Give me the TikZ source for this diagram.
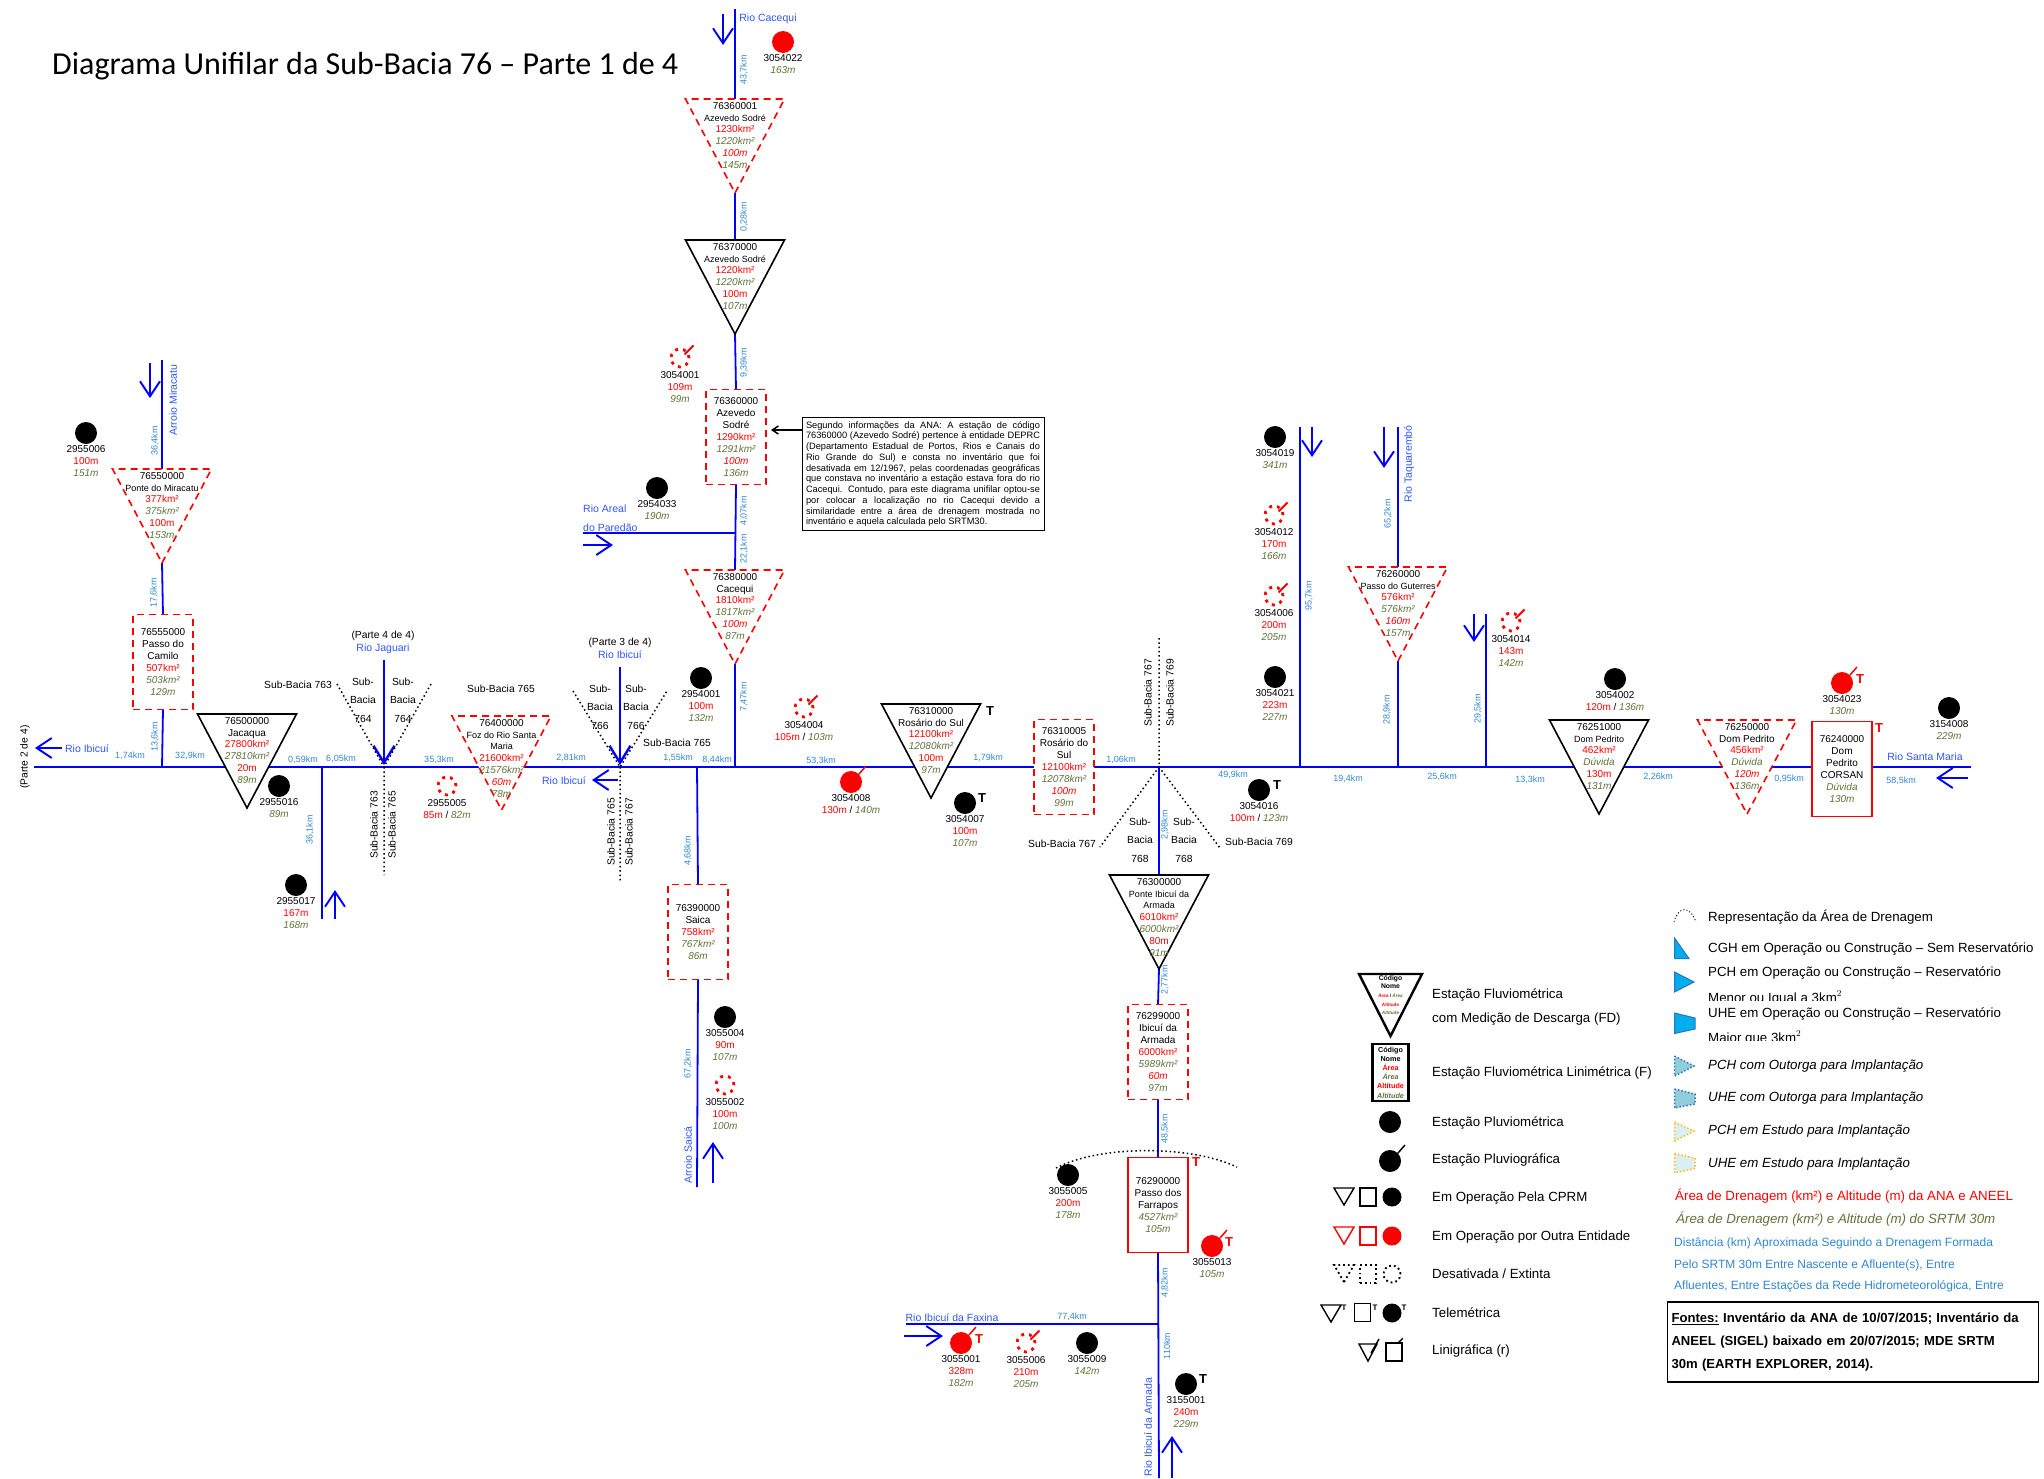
\documentclass[tikz,border=0pt]{standalone}
\usepackage{fontspec}
\setmainfont{Liberation Sans}
\newfontfamily\fonteTitulo{Carlito}
\usetikzlibrary{shapes.geometric, arrows.meta, positioning, backgrounds, calc}
\definecolor{azulRio}{HTML}{0000FF}
\definecolor{azulTxt}{HTML}{2F55FF}
\definecolor{azulKm}{HTML}{2F86D0}
\definecolor{vermelhoANA}{HTML}{FF0000}
\definecolor{verdeSRTM}{HTML}{5F7339}
\definecolor{azulUsina}{HTML}{00AEEF}
\definecolor{azulBorda}{HTML}{2E75B6}
\definecolor{azulOutorga}{HTML}{92CDDC}
\definecolor{azulEstudo}{HTML}{DAEEF3}
\definecolor{amareloEstudo}{HTML}{FFC000}
\newcommand{\ana}[1]{\textcolor{vermelhoANA}{#1}}
\newcommand{\ani}[1]{\textcolor{vermelhoANA}{\itshape #1}}
\newcommand{\srt}[1]{\textcolor{verdeSRTM}{\itshape #1}}
\newcommand{\nm}[1]{{\fontsize{9}{12}\selectfont #1}}

\begin{document}
\begin{tikzpicture}[x=1pt, y=-1pt,
        tri/.style={isosceles triangle, isosceles triangle stretches, shape border rotate=270,
            anchor=lower side, inner sep=0pt, outer sep=0pt, minimum width=99pt, minimum height=94pt, fill=white},
        triP/.style={tri, draw=black, line width=1.6pt},
        triV/.style={tri, draw=vermelhoANA, line width=1.6pt, dash pattern=on 7pt off 5pt},
        trimini/.style={tri, minimum width=20pt, minimum height=17pt, line width=1.4pt},
        caixa/.style={rectangle, minimum width=60pt, minimum height=95pt, inner sep=0pt, outer sep=0pt, fill=white},
        caixaV/.style={caixa, draw=vermelhoANA, line width=1.6pt, dash pattern=on 7pt off 5pt},
        caixaS/.style={caixa, draw=vermelhoANA, line width=1.6pt},
        cmini/.style={rectangle, minimum width=16pt, minimum height=18pt, inner sep=0pt, line width=1.4pt},
        pluv/.style={circle, fill=black, minimum size=22pt, inner sep=0pt},
        pluvV/.style={circle, fill=vermelhoANA, minimum size=22pt, inner sep=0pt},
        ext/.style={circle, draw=vermelhoANA, line width=2.8pt, dash pattern=on 3pt off 5pt, minimum size=18pt, inner sep=0pt},
        risco/.style={append after command={(\tikzlastnode.45) edge[draw=#1, line width=1.5pt] ++(7,-8)}},
        riscoE/.style={append after command={(\tikzlastnode.center) ++(4.5,-3.5) edge[draw=vermelhoANA, line width=1.9pt] ++(9,-9)}},
        etq/.style={font=\fontsize{10}{12}\selectfont, align=center, inner sep=0pt},
        txt/.style={font=\fontsize{10}{11.9}\selectfont, align=center, inner sep=0pt},
        km/.style={font=\fontsize{9}{10}\selectfont, text=azulKm, inner sep=0pt},
        kmv/.style={km, rotate=90},
        rotulo/.style={font=\fontsize{10.3}{12}\selectfont, inner sep=0pt},
        subb/.style={font=\fontsize{10.3}{18.5}\selectfont, align=center, inner sep=0pt},
        rioTxt/.style={font=\fontsize{10.5}{12}\selectfont, text=azulTxt, inner sep=0pt},
        tel/.style={font=\bfseries\fontsize{13}{13}\selectfont, inner sep=0pt},
        rio/.style={draw=azulRio, line width=1.8pt},
        rioP/.style={draw=azulRio, line width=2.6pt},
        fluxo/.style={draw=azulRio, line width=1.9pt, -{Straight Barb[length=15pt,width=20pt]}},
        pont/.style={draw=black, line width=1.5pt, dash pattern=on 1.5pt off 2.8pt},
        leg/.style={anchor=west, font=\fontsize{13.3}{15}\selectfont, inner sep=0pt},
        legi/.style={leg, font=\itshape\fontsize{13.3}{15}\selectfont},
        usina/.style={draw=azulBorda, fill=azulUsina, line width=1pt},
        outorga/.style={draw=azulBorda, fill=azulOutorga, line width=1.5pt, dash pattern=on 1.5pt off 2pt},
        estudo/.style={draw=amareloEstudo, fill=azulEstudo, line width=1.5pt, dash pattern=on 1.5pt off 2pt}
    ]
    \useasboundingbox (0,0) rectangle (2044,1478);
    \node[font=\fonteTitulo\fontsize{32}{36}\selectfont, anchor=west, inner sep=0pt] (titulo) at (52,66)
        {Diagrama Unifilar da Sub-Bacia 76 – Parte 1 de 4};

    % estacoes fluviometricas
    \node[triV] (t76360001) at (735,99) {};
    \node[txt, below=3pt of t76360001.lower side] (l76360001) {76360001\\\nm{Azevedo Sodré}\\\ana{1230km²}\\\srt{1220km²}\\\ani{100m}\\\srt{145m}};
    \node[triP] (t76370000) at (735,240) {};
    \node[txt, below=3pt of t76370000.lower side] (l76370000) {76370000\\\nm{Azevedo Sodré}\\\ana{1220km²}\\\srt{1220km²}\\\ana{100m}\\\srt{107m}};
    \node[caixaV] (b76360000) at (736,437) {};
    \node[txt] (l76360000) at (b76360000) {76360000\\Azevedo\\Sodré\\\ana{1290km²}\\\srt{1291km²}\\\ani{100m}\\\srt{136m}};
    \node[triV] (t76380000) at (735,570) {};
    \node[txt, below=3pt of t76380000.lower side] (l76380000) {76380000\\Cacequi\\\ana{1810km²}\\\srt{1817km²}\\\ani{100m}\\\srt{87m}};
    \node[triV] (t76550000) at (162,469) {};
    \node[txt, below=3pt of t76550000.lower side] (l76550000) {76550000\\\nm{Ponte do Miracatu}\\\ana{377km²}\\\srt{375km²}\\\ana{100m}\\\srt{153m}};
    \node[caixaV] (b76555000) at (163,662) {};
    \node[txt] (l76555000) at (b76555000) {76555000\\Passo do\\Camilo\\\ana{507km²}\\\srt{503km²}\\\srt{129m}};
    \node[triP] (t76500000) at (247,714) {};
    \node[txt, below=3pt of t76500000.lower side] (l76500000) {76500000\\Jacaqua\\\ana{27800km²}\\\srt{27810km²}\\\ana{20m}\\\srt{89m}};
    \node[triV] (t76400000) at (501.5,716) {};
    \node[txt, below=3pt of t76400000.lower side] (l76400000) {76400000\\\nm{Foz do Rio Santa}\\\nm{Maria}\\\ana{21600km²}\\\srt{21576km²}\\\ani{60m}\\\srt{78m}};
    \node[triP] (t76310000) at (931,704) {};
    \node[txt, below=3pt of t76310000.lower side] (l76310000) {76310000\\Rosário do Sul\\\ana{12100km²}\\\srt{12080km²}\\\ana{100m}\\\srt{97m}};
    \node[caixaV] (b76310005) at (1064,767) {};
    \node[txt] (l76310005) at (b76310005) {76310005\\Rosário do\\Sul\\\ana{12100km²}\\\srt{12078km²}\\\ani{100m}\\\srt{99m}};
    \node[caixaV] (b76390000) at (698,932) {};
    \node[txt] (l76390000) at (b76390000) {76390000\\Saica\\\ana{758km²}\\\srt{767km²}\\\srt{86m}};
    \node[triP] (t76300000) at (1159,875) {};
    \node[txt, below=3pt of t76300000.lower side] (l76300000) {76300000\\\nm{Ponte Ibicuí da}\\\nm{Armada}\\\ana{6010km²}\\\srt{6000km²}\\\ana{80m}\\\srt{91m}};
    \node[caixaV] (b76299000) at (1158,1052) {};
    \node[txt] (l76299000) at (b76299000) {76299000\\Ibicuí da\\Armada\\\ana{6000km²}\\\srt{5989km²}\\\ani{60m}\\\srt{97m}};
    \node[caixaS] (b76290000) at (1158,1205) {};
    \node[txt] (l76290000) at (b76290000) {76290000\\Passo dos\\Farrapos\\\srt{4527km²}\\\srt{105m}};
    \node[triV] (t76260000) at (1398,567) {};
    \node[txt, below=3pt of t76260000.lower side] (l76260000) {76260000\\\nm{Passo do Guterres}\\\ana{576km²}\\\srt{576km²}\\\ani{160m}\\\srt{157m}};
    \node[triP] (t76251000) at (1599,720) {};
    \node[txt, below=3pt of t76251000.lower side] (l76251000) {76251000\\\nm{Dom Pedrito}\\\ana{462km²}\\\srt{Dúvida}\\\ana{130m}\\\srt{131m}};
    \node[triV] (t76250000) at (1747,720) {};
    \node[txt, below=3pt of t76250000.lower side] (l76250000) {76250000\\Dom Pedrito\\\ana{456km²}\\\srt{Dúvida}\\\ani{120m}\\\srt{136m}};
    \node[caixaS] (b76240000) at (1842,769) {};
    \node[txt] (l76240000) at (b76240000) {76240000\\Dom\\Pedrito\\CORSAN\\\srt{Dúvida}\\\srt{130m}};

    % estacoes pluviometricas
    \node[pluvV] (p3054022) at (783,42) {};
    \node[etq, below=1pt of p3054022] (e3054022) {3054022\\\srt{163m}};
    \node[ext, riscoE] (p3054001) at (680,358) {};
    \node[etq, below=3pt of p3054001] (e3054001) {3054001\\\ana{109m}\\\srt{99m}};
    \node[pluv] (p2954033) at (657,488) {};
    \node[etq, below=1pt of p2954033] (e2954033) {2954033\\\srt{190m}};
    \node[pluv] (p2955006) at (86,433) {};
    \node[etq, below=1pt of p2955006] (e2955006) {2955006\\\ana{100m}\\\srt{151m}};
    \node[pluv] (p2955016) at (279,786) {};
    \node[etq, below=1pt of p2955016] (e2955016) {2955016\\\srt{89m}};
    \node[pluv] (p2955017) at (296,885) {};
    \node[etq, below=1pt of p2955017] (e2955017) {2955017\\\ana{167m}\\\srt{168m}};
    \node[ext] (p2955005) at (447,786) {};
    \node[etq, below=3pt of p2955005] (e2955005) {2955005\\\ana{85m} / \srt{82m}};
    \node[pluv] (p2954001) at (701,678) {};
    \node[etq, below=1pt of p2954001] (e2954001) {2954001\\\ana{100m}\\\srt{132m}};
    \node[ext, riscoE] (p3054004) at (804,708) {};
    \node[etq, below=3pt of p3054004] (e3054004) {3054004\\\ana{105m} / \srt{103m}};
    \node[pluvV, risco=vermelhoANA] (p3054008) at (851,782) {};
    \node[etq, below=1pt of p3054008] (e3054008) {3054008\\\ana{130m} / \srt{140m}};
    \node[pluv] (p3054007) at (965,803) {};
    \node[etq, below=1pt of p3054007] (e3054007) {3054007\\\ana{100m}\\\srt{107m}};
    \node[pluv] (p3054016) at (1259,790) {};
    \node[etq, below=1pt of p3054016] (e3054016) {3054016\\\ana{100m} / \srt{123m}};
    \node[pluv] (p3054019) at (1275,437) {};
    \node[etq, below=1pt of p3054019] (e3054019) {3054019\\\srt{341m}};
    \node[ext, riscoE] (p3054012) at (1274,515) {};
    \node[etq, below=3pt of p3054012] (e3054012) {3054012\\\ana{170m}\\\srt{166m}};
    \node[ext, riscoE] (p3054006) at (1274,596) {};
    \node[etq, below=3pt of p3054006] (e3054006) {3054006\\\ana{200m}\\\srt{205m}};
    \node[pluv] (p3054021) at (1275,677) {};
    \node[etq, below=1pt of p3054021] (e3054021) {3054021\\\ana{223m}\\\srt{227m}};
    \node[ext, riscoE] (p3054014) at (1511,622) {};
    \node[etq, below=3pt of p3054014] (e3054014) {3054014\\\ana{143m}\\\srt{142m}};
    \node[pluv] (p3054002) at (1615,679) {};
    \node[etq, below=1pt of p3054002] (e3054002) {3054002\\\ana{120m} / \srt{136m}};
    \node[pluvV, risco=vermelhoANA] (p3054023) at (1842,683) {};
    \node[etq, below=1pt of p3054023] (e3054023) {3054023\\\srt{130m}};
    \node[pluv] (p3154008) at (1949,708) {};
    \node[etq, below=1pt of p3154008] (e3154008) {3154008\\\srt{229m}};
    \node[pluv] (p3055004) at (725,1017) {};
    \node[etq, below=1pt of p3055004] (e3055004) {3055004\\\ana{90m}\\\srt{107m}};
    \node[ext] (p3055002) at (725,1085) {};
    \node[etq, below=3pt of p3055002] (e3055002) {3055002\\\ana{100m}\\\srt{100m}};
    \node[pluv] (p3055005) at (1068,1175) {};
    \node[etq, below=1pt of p3055005] (e3055005) {3055005\\\ana{200m}\\\srt{178m}};
    \node[pluvV, risco=vermelhoANA] (p3055013) at (1212,1246) {};
    \node[etq, below=1pt of p3055013] (e3055013) {3055013\\\srt{105m}};
    \node[pluvV, risco=vermelhoANA] (p3055001) at (961,1343) {};
    \node[etq, below=1pt of p3055001] (e3055001) {3055001\\\ana{328m}\\\srt{182m}};
    \node[ext, riscoE] (p3055006) at (1026,1343) {};
    \node[etq, below=3pt of p3055006] (e3055006) {3055006\\\ana{210m}\\\srt{205m}};
    \node[pluv] (p3055009) at (1087,1343) {};
    \node[etq, below=1pt of p3055009] (e3055009) {3055009\\\srt{142m}};
    \node[pluv] (p3155001) at (1186,1384) {};
    \node[etq, below=1pt of p3155001] (e3155001) {3155001\\\ana{240m}\\\srt{229m}};

    % telemetrica
    \node[tel] (T1) at (990,711) {T};
    \node[tel] (T2) at (982,798) {T};
    \node[tel] (T3) at (1277,785) {T};
    \node[tel] (T4) at (1203,1379) {T};
    \node[tel, text=vermelhoANA] (T5) at (1860,679) {T};
    \node[tel, text=vermelhoANA] (T6) at (1879,728) {T};
    \node[tel, text=vermelhoANA] (T7) at (1196,1162) {T};
    \node[tel, text=vermelhoANA] (T8) at (1229,1242) {T};
    \node[tel, text=vermelhoANA] (T9) at (979,1339) {T};

    % rios
    \coordinate (oeste) at (34,767);
    \coordinate (leste) at (1971,767);
    \coordinate (jMir) at (162,767);
    \coordinate (j361) at (322,767);
    \coordinate (jJag) at (384,767);
    \coordinate (jIbi) at (620,767);
    \coordinate (jSai) at (697,767);
    \coordinate (jCac) at (735,767);
    \coordinate (jArm) at (1159,767);
    \coordinate (j957) at (1300,767);
    \coordinate (jTaq) at (1398,767);
    \coordinate (j295) at (1486,767);
    \coordinate (nMir) at (162,360);
    \coordinate (nCac) at (735,9);
    \coordinate (nAre) at (583,533);
    \coordinate (jAre) at (735,533);
    \coordinate (n361) at (322,919);
    \coordinate (nJag) at (384,660);
    \coordinate (nIbi) at (620,667);
    \coordinate (nSai) at (697,1187);
    \coordinate (nArm) at (1159,1478);
    \coordinate (nFax) at (906,1324);
    \coordinate (jFax) at (1159,1324);
    \coordinate (n957) at (1300,427);
    \coordinate (nTaq) at (1398,427);
    \coordinate (n295) at (1486,614);
    \begin{scope}[on background layer]
        \draw[rioP] (oeste) -- (leste);
        \draw[rio] (jMir) -- (b76555000.south) (b76555000.north) -- (t76550000.apex) (t76550000.lower side) -- (nMir);
        \draw[rio] (nCac) -- (t76360001.lower side) (t76360001.apex) -- (t76370000.lower side)
            (t76370000.apex) -- (b76360000.north) (b76360000.south) -- (t76380000.lower side) (t76380000.apex) -- (jCac);
        \draw[rio, line width=1.4pt] (nAre) -- (jAre);
        \draw[rio] (j361) -- (n361);
        \draw[rio] (jSai) -- (b76390000.north) (b76390000.south) -- (nSai);
        \draw[rio] (jArm) -- (t76300000.lower side) (t76300000.apex) -- (b76299000.north)
            (b76299000.south) -- (b76290000.north) (b76290000.south) -- (nArm);
        \draw[rio, line width=1.4pt] (nFax) -- (jFax);
        \draw[rio] (n957) -- (j957);
        \draw[rio] (nTaq) -- (t76260000.lower side) (t76260000.apex) -- (jTaq);
        \draw[rio] (n295) -- (j295);
    \end{scope}
    \draw[fluxo, line width=2.4pt, -{Straight Barb[length=17pt,width=21pt]}] (nJag) -- ([yshift=2pt]jJag);
    \draw[fluxo, line width=2.4pt, -{Straight Barb[length=17pt,width=21pt]}] (nIbi) -- ([yshift=2pt]jIbi);

    % sentido do fluxo
    \coordinate (f1) at (723,14);    \draw[fluxo] (f1) -- ++(0,31);
    \coordinate (f2) at (150,363);   \draw[fluxo] (f2) -- ++(0,35);
    \coordinate (f3) at (583,545);   \draw[fluxo] (f3) -- ++(30,0);
    \coordinate (f4) at (62,748);    \draw[fluxo] (f4) -- ++(-27,0);
    \coordinate (f5) at (618,780);   \draw[fluxo] (f5) -- ++(-26,0);
    \coordinate (f6) at (335,919);   \draw[fluxo] (f6) -- ++(0,-29);
    \coordinate (f7) at (713,1183);  \draw[fluxo] (f7) -- ++(0,-41);
    \coordinate (f8) at (1312,427);  \draw[fluxo] (f8) -- ++(0,30);
    \coordinate (f9) at (1384,427);  \draw[fluxo] (f9) -- ++(0,41);
    \coordinate (f10) at (1474,614); \draw[fluxo] (f10) -- ++(0,28);
    \coordinate (f11) at (1968,778); \draw[fluxo] (f11) -- ++(-32,0);
    \coordinate (f12) at (904,1336); \draw[fluxo] (f12) -- ++(39,0);
    \coordinate (f13) at (1172,1478); \draw[fluxo] (f13) -- ++(0,-42);

    % limites de sub-bacia
    \coordinate (s1) at (337,684);  \coordinate (s2) at (431,684);  \coordinate (s3) at (384,875);
    \coordinate (s4) at (573,691);  \coordinate (s5) at (667,691);  \coordinate (s6) at (620,883);
    \coordinate (s7) at (1159,638); \coordinate (s8) at (1100,847); \coordinate (s9) at (1220,848);
    \draw[pont] (s1) -- (jJag) -- (s2) (jJag) -- (s3);
    \draw[pont] (s4) -- (jIbi) -- (s5) (jIbi) -- (s6);
    \draw[pont] (s7) -- (jArm) -- (s8) (jArm) -- (s9);
    \coordinate (a1) at (1056,1168); \coordinate (a2) at (1237,1167);
    \draw[pont] (a1) .. controls (1100,1145) and (1190,1145) .. (a2);

    % distancias
    \node[kmv] (k1) at (744,70) {43,7km};
    \node[kmv] (k2) at (744,217) {0,28km};
    \node[kmv] (k3) at (744,363) {9,39km};
    \node[kmv] (k4) at (744,511) {4,07km};
    \node[kmv] (k5) at (744,549) {22,1km};
    \node[kmv] (k6) at (744,697) {7,47km};
    \node[kmv] (k7) at (155,441) {36,4km};
    \node[kmv] (k8) at (154,593) {17,6km};
    \node[kmv] (k9) at (155,737) {13,6km};
    \node[kmv] (k10) at (310,830) {36,1km};
    \node[kmv] (k11) at (688,851) {4,68km};
    \node[kmv] (k12) at (688,1064) {67,2km};
    \node[kmv] (k13) at (1165,825) {2,98km};
    \node[kmv] (k14) at (1165,980) {2,77km};
    \node[kmv] (k15) at (1165,1129) {48,5km};
    \node[kmv] (k16) at (1165,1283) {4,82km};
    \node[kmv] (k17) at (1167,1346) {110km};
    \node[kmv] (k18) at (1309,596) {95,7km};
    \node[kmv] (k19) at (1388,514) {65,2km};
    \node[kmv] (k20) at (1387,710) {28,9km};
    \node[kmv] (k21) at (1478,709) {29,5km};
    \node[km] (k22) at (130,756) {1,74km};
    \node[km] (k23) at (190,756) {32,9km};
    \node[km] (k24) at (303,760) {0,59km};
    \node[km] (k25) at (341,759) {6,05km};
    \node[km] (k26) at (439,760) {35,3km};
    \node[km] (k27) at (571,758) {2,81km};
    \node[km] (k28) at (678,758) {1,55km};
    \node[km] (k29) at (717,760) {8,44km};
    \node[km] (k30) at (821,761) {53,3km};
    \node[km] (k31) at (988,758) {1,79km};
    \node[km] (k32) at (1121,760) {1,06km};
    \node[km] (k33) at (1233,775) {49,9km};
    \node[km] (k34) at (1348,779) {19,4km};
    \node[km] (k35) at (1442,777) {25,6km};
    \node[km] (k36) at (1530,780) {13,3km};
    \node[km] (k37) at (1658,777) {2,26km};
    \node[km] (k38) at (1789,779) {0,95km};
    \node[km] (k39) at (1901,781) {58,5km};
    \node[km] (k40) at (1072,1317) {77,4km};

    % nomes dos rios
    \node[rioTxt] (r1) at (768,19) {Rio Cacequi};
    \node[rioTxt, rotate=90] (r2) at (173,400) {Arroio Miracatu};
    \node[rioTxt, align=left, anchor=west, font=\fontsize{10.5}{19}\selectfont] (r3) at (583,518) {Rio Areal\\do Paredão};
    \node[rioTxt] (r4) at (87,749) {Rio Ibicuí};
    \node[rioTxt] (r5) at (564,781) {Rio Ibicuí};
    \node[rioTxt] (r6) at (383,649) {Rio Jaguari};
    \node[rioTxt] (r7) at (620,655) {Rio Ibicuí};
    \node[rioTxt, rotate=90] (r8) at (688,1155) {Arroio Saicá};
    \node[rioTxt] (r9) at (952,1318) {Rio Ibicuí da Faxina};
    \node[rioTxt, rotate=90] (r10) at (1148,1427) {Rio Ibicuí da Armada};
    \node[rioTxt, rotate=90] (r11) at (1409,464) {Rio Taquarembó};
    \node[rioTxt] (r12) at (1925,757) {Rio Santa Maria};

    % sub-bacias
    \node[rotulo] (c1) at (383,636) {(Parte 4 de 4)};
    \node[rotulo] (c2) at (620,643) {(Parte 3 de 4)};
    \node[rotulo, rotate=90] (c3) at (25,757) {(Parte 2 de 4)};
    \node[rotulo] (c4) at (298,685) {Sub-Bacia 763};
    \node[subb] (c5) at (363,700) {Sub-\\Bacia\\764};
    \node[subb] (c6) at (403,700) {Sub-\\Bacia\\764};
    \node[rotulo] (c7) at (501,689) {Sub-Bacia 765};
    \node[rotulo, rotate=90] (c8) at (374,825) {Sub-Bacia 763};
    \node[rotulo, rotate=90] (c9) at (392,825) {Sub-Bacia 765};
    \node[subb] (c10) at (600,707) {Sub-\\Bacia\\766};
    \node[subb] (c11) at (636,707) {Sub-\\Bacia\\766};
    \node[rotulo] (c12) at (677,743) {Sub-Bacia 765};
    \node[rotulo, rotate=90] (c13) at (611,832) {Sub-Bacia 765};
    \node[rotulo, rotate=90] (c14) at (629,832) {Sub-Bacia 767};
    \node[rotulo, rotate=90] (c15) at (1148,693) {Sub-Bacia 767};
    \node[rotulo, rotate=90] (c16) at (1170,693) {Sub-Bacia 769};
    \node[subb] (c17) at (1140,840) {Sub-\\Bacia\\768};
    \node[subb] (c18) at (1184,840) {Sub-\\Bacia\\768};
    \node[rotulo] (c19) at (1062,844) {Sub-Bacia 767};
    \node[rotulo] (c20) at (1259,842) {Sub-Bacia 769};

    % nota
    \node[draw=black, line width=1pt, fill=white, text width=234pt, inner sep=4pt, align=justify,
        font=\fontsize{9.25}{10.75}\selectfont] (nota) at (923,474)
        {Segundo informações da ANA: A estação de código\linebreak
        76360000 (Azevedo Sodré) pertence à entidade DEPRC\linebreak
        (Departamento Estadual de Portos, Rios e Canais do\linebreak
        Rio Grande do Sul) e consta no inventário que foi\linebreak
        desativada em 12/1967, pelas coordenadas geográficas\linebreak
        que constava no inventário a estação estava fora do rio\linebreak
        Cacequi. Contudo, para este diagrama unifilar optou-se\linebreak
        por colocar a localização no rio Cacequi devido a\linebreak
        similaridade entre a área de drenagem mostrada no\linebreak
        inventário e aquela calculada pelo SRTM30.};
    \coordinate (aNota) at ([xshift=5pt,yshift=7pt]b76360000.east);
    \draw[line width=1.5pt, -{Straight Barb[length=6pt,width=8pt]}] (nota.west |- aNota) -- (aNota);

    % legenda
    \node[tri, draw=black, line width=2.4pt, minimum width=63pt, minimum height=62pt] (gT) at (1390.5,974) {};
    \node[font=\bfseries\fontsize{6.8}{8.6}\selectfont, align=center, inner sep=0pt, below=1pt of gT.lower side] (gTt)
        {Código\\Nome\\{\fontsize{4.6}{6}\selectfont\ana{Área} / \srt{Área}}\\{\fontsize{4.6}{6}\selectfont\ana{Altitude}}\\{\fontsize{4.6}{6}\selectfont\srt{Altitude}}};
    \node[rectangle, draw=black, line width=2.4pt, minimum width=36pt, minimum height=57pt, inner sep=0pt] (gB) at (1390.5,1072.5) {};
    \node[font=\bfseries\fontsize{7.2}{9.2}\selectfont, align=center, inner sep=0pt] (gBt) at (gB)
        {Código\\Nome\\\ana{Área}\\\srt{Área}\\\ana{Altitude}\\\srt{Altitude}};
    \node[leg] (g1) at (1432,995) {Estação Fluviométrica};
    \node[leg] (g2) at (1432,1019) {com Medição de Descarga (FD)};
    \node[leg] (g3) at (1432,1073) {Estação Fluviométrica Linimétrica (F)};
    \node[pluv] (gP) at (1390,1122) {};
    \node[leg] (g4) at (1432,1123) {Estação Pluviométrica};
    \node[pluv, risco=black] (gG) at (1390,1161) {};
    \node[leg] (g5) at (1432,1160) {Estação Pluviográfica};

    \node[trimini, draw=black] (g6a) at (1344,1188) {};
    \node[cmini, draw=black] (g6b) at (1368,1197) {};
    \node[pluv, minimum size=19pt] (g6c) at (1392,1197) {};
    \node[leg] (g6) at (1432,1198) {Em Operação Pela CPRM};
    \node[trimini, draw=vermelhoANA] (g7a) at (1344,1227) {};
    \node[cmini, draw=vermelhoANA] (g7b) at (1368,1236) {};
    \node[pluvV, minimum size=19pt] (g7c) at (1392,1236) {};
    \node[leg] (g7) at (1432,1237.5) {Em Operação por Outra Entidade};
    \node[trimini, draw=black, dash pattern=on 1.8pt off 3pt, line width=1.9pt] (g8a) at (1344,1265) {};
    \node[cmini, draw=black, dash pattern=on 1.8pt off 3pt, line width=1.9pt] (g8b) at (1368,1274) {};
    \node[circle, draw=black, dash pattern=on 1.8pt off 3pt, line width=1.9pt, minimum size=17pt, inner sep=0pt] (g8c) at (1392,1274) {};
    \node[leg] (g8) at (1432,1274) {Desativada / Extinta};
    \node[trimini, draw=black] (g9a) at (1331,1305) {};
    \node[tel, font=\bfseries\fontsize{8}{8}\selectfont] (g9t) at (1344,1308) {T};
    \node[cmini, draw=black] (g9b) at (1362.5,1312.5) {};
    \node[tel, font=\bfseries\fontsize{8}{8}\selectfont] (g9u) at (1375,1308) {T};
    \node[pluv, minimum size=19pt] (g9c) at (1392,1313) {};
    \node[tel, font=\bfseries\fontsize{8}{8}\selectfont] (g9v) at (1404,1308) {T};
    \node[leg] (g9) at (1432,1313) {Telemétrica};
    \node[trimini, draw=black, minimum width=18pt] (g10a) at (1368,1344) {};
    \draw[black, line width=1.4pt] (g10a.apex) ++(3,-8) -- ++(8,-14);
    \node[cmini, draw=black] (g10b) at (1394,1352) {};
    \coordinate (g10c) at (g10b.north east);
    \draw[black, line width=1.4pt] (g10c) ++(-4,0) -- ++(4,-4);
    \node[leg] (g10) at (1432,1351) {Linigráfica (r)};

    \coordinate (h1) at (1674,922); \coordinate (h2) at (1696,922);
    \draw[black, line width=.8pt, dash pattern=on 1.2pt off 2pt] (h1) .. controls (1678,906) and (1690,905) .. (h2);
    \node[leg] (h3) at (1708,917) {Representação da Área de Drenagem};
    \draw[usina] (1674.5,938) -- (1689,958.5) -- (1674.5,958.5) -- cycle;
    \node[leg] (h4) at (1708,949) {CGH em Operação ou Construção – Sem Reservatório};
    \draw[usina] (1674.5,972) -- (1694,982) -- (1674.5,992) -- cycle;
    \node[leg] (h5) at (1708,973) {PCH em Operação ou Construção – Reservatório};
    \begin{scope}
        \clip (1700,985) rectangle (2044,1000.5);
        \node[leg] (h6) at (1708,998) {Menor ou Igual a 3km$^2$};
    \end{scope}
    \draw[usina] (1674.5,1013) -- (1695,1018) -- (1695,1029) -- (1674.5,1033.5) -- cycle;
    \node[leg] (h7) at (1708,1014) {UHE em Operação ou Construção – Reservatório};
    \begin{scope}
        \clip (1700,1025) rectangle (2044,1040);
        \node[leg] (h8) at (1708,1038) {Maior que 3km$^2$};
    \end{scope}
    \draw[outorga] (1674.5,1056) -- (1694,1066) -- (1674.5,1076) -- cycle;
    \node[legi] (h9) at (1708,1066) {PCH com Outorga para Implantação};
    \draw[outorga] (1674.5,1089) -- (1695,1094) -- (1695,1104) -- (1674.5,1108) -- cycle;
    \node[legi] (h10) at (1708,1098.5) {UHE com Outorga para Implantação};
    \draw[estudo] (1674.5,1122) -- (1694,1131) -- (1674.5,1141) -- cycle;
    \node[legi] (h11) at (1708,1131) {PCH em Estudo para Implantação};
    \draw[estudo] (1674.5,1153.5) -- (1695,1158) -- (1695,1168.5) -- (1674.5,1173) -- cycle;
    \node[legi] (h12) at (1708,1164) {UHE em Estudo para Implantação};
    \node[leg, text=vermelhoANA] (h13) at (1675,1196) {Área de Drenagem (km²) e Altitude (m) da ANA e ANEEL};
    \node[legi, text=verdeSRTM] (h14) at (1676,1219) {Área de Drenagem (km²) e Altitude (m) do SRTM 30m};
    \node[leg, font=\fontsize{12}{14}\selectfont, text=azulKm] (h15) at (1674,1243.5) {Distância (km) Aproximada Seguindo a Drenagem Formada};
    \node[leg, font=\fontsize{12}{14}\selectfont, text=azulKm] (h16) at (1674,1265) {Pelo SRTM 30m Entre Nascente e Afluente(s), Entre};
    \node[leg, font=\fontsize{12}{14}\selectfont, text=azulKm] (h17) at (1674,1286) {Afluentes, Entre Estações da Rede Hidrometeorológica, Entre};
    \node[draw=black, line width=1.2pt, fill=white, text width=363pt, minimum height=80pt, inner sep=4pt, align=left,
        font=\bfseries\fontsize{13.1}{23}\selectfont] (fontes) at (1853,1342)
        {\underline{Fontes:} Inventário da ANA de 10/07/2015; Inventário da\\ANEEL (SIGEL) baixado em 20/07/2015; MDE SRTM\\30m (EARTH EXPLORER, 2014).};
\end{tikzpicture}
\end{document}
